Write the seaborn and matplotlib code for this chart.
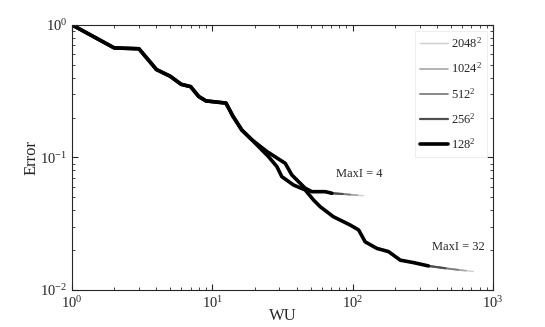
import matplotlib
matplotlib.use('Agg')
import matplotlib.pyplot as plt
from matplotlib.lines import Line2D
import seaborn as sns

# Datos (WU vs Error)
resoluciones = ['2048', '1024', '512', '256', '128']
colores = ['#cfcfcf', '#a6a6a6', '#7f7f7f', '#4f4f4f', '#000000']
grosores = [1.0, 1.2, 1.3, 1.6, 2.6]

# tramo comun a ambas ramas
wu_comun = [1, 2, 3, 4, 5, 6, 7, 8, 9, 12.5, 14, 16.2, 19.1]
err_comun = [1.0, 0.67, 0.66, 0.46, 0.41, 0.356, 0.342, 0.288, 0.267, 0.257, 0.205, 0.161, 0.136]

# rama MaxI = 4 (hasta donde llega 128^2)
wu_max4 = [24.4, 33, 36.8, 45.8, 51.1, 63.6, 71]
err_max4 = [0.111, 0.0904, 0.0738, 0.0586, 0.0552, 0.0552, 0.0537]
# cola extra de las resoluciones mas finas
wu_cola4 = [85, 96, 108, 119]
err_cola4 = [0.0530, 0.0524, 0.0519, 0.0515]

# rama MaxI = 32
wu_max32 = [25.1, 28.8, 31.2, 37.8, 45.8, 52.5, 58.6, 72.8, 95.5, 110, 122.5,
            148.5, 179.6, 218, 271, 346]
err_max32 = [0.1014, 0.0853, 0.0717, 0.062, 0.0569, 0.0478, 0.0425, 0.0357, 0.031,
             0.0284, 0.0231, 0.0206, 0.0195, 0.0168, 0.0161, 0.0152]
wu_cola32 = [456, 564, 640, 721]
err_cola32 = [0.0146, 0.0142, 0.0140, 0.0138]

sns.set_style('ticks')
plt.rcParams['font.family'] = ['Liberation Serif', 'DejaVu Serif']
plt.rcParams['mathtext.fontset'] = 'custom'
plt.rcParams['mathtext.rm'] = 'Liberation Serif'
plt.rcParams['mathtext.it'] = 'Liberation Serif:italic'
plt.rcParams['xtick.direction'] = 'in'
plt.rcParams['ytick.direction'] = 'in'

fig = plt.figure(figsize=(5.45, 3.27), dpi=100)
ax = fig.add_axes([0.132, 0.113, 0.773, 0.811])

# cuantos puntos de la cola usa cada resolucion (128 -> 0, 2048 -> 4)
n_cola = [4, 3, 2, 1, 0]

for res, col, lw, k in zip(resoluciones, colores, grosores, n_cola):
    x4 = wu_comun + wu_max4 + wu_cola4[:k]
    y4 = err_comun + err_max4 + err_cola4[:k]
    x32 = wu_comun + wu_max32 + wu_cola32[:k]
    y32 = err_comun + err_max32 + err_cola32[:k]
    sns.lineplot(x=x4, y=y4, color=col, linewidth=lw, ax=ax, legend=False)
    sns.lineplot(x=x32, y=y32, color=col, linewidth=lw, ax=ax, legend=False)

ax.set_xscale('log')
ax.set_yscale('log')
ax.set_xlim(1, 1000)
ax.set_ylim(0.01, 1)
ax.tick_params(which='both', top=True, right=True, labelsize=10.5)
ax.tick_params(which='major', length=4)
ax.tick_params(which='minor', length=2)
for s in ax.spines.values():
    s.set_linewidth(0.8)

ax.set_xlabel('WU', fontsize=12)
ax.set_ylabel('Error', fontsize=12)
ax.xaxis.set_label_coords(0.5, -0.068)
ax.yaxis.set_label_coords(-0.078, 0.5)

ax.text(76, 0.075, 'MaxI = 4', fontsize=9, va='center')
ax.text(366, 0.0212, 'MaxI = 32', fontsize=9, va='center')

handles = [Line2D([], [], color=c, linewidth=lw) for c, lw in zip(colores, grosores)]
etiquetas = [r + '$^2$' for r in resoluciones]
leg = ax.legend(handles, etiquetas, loc='upper right', fontsize=9, frameon=True,
                fancybox=False, edgecolor='#e6e6e6', labelspacing=0.85,
                handlelength=2.3, handletextpad=0.2, borderaxespad=0.5)
leg.get_frame().set_linewidth(0.6)

fig.savefig('out.png', dpi=100)
